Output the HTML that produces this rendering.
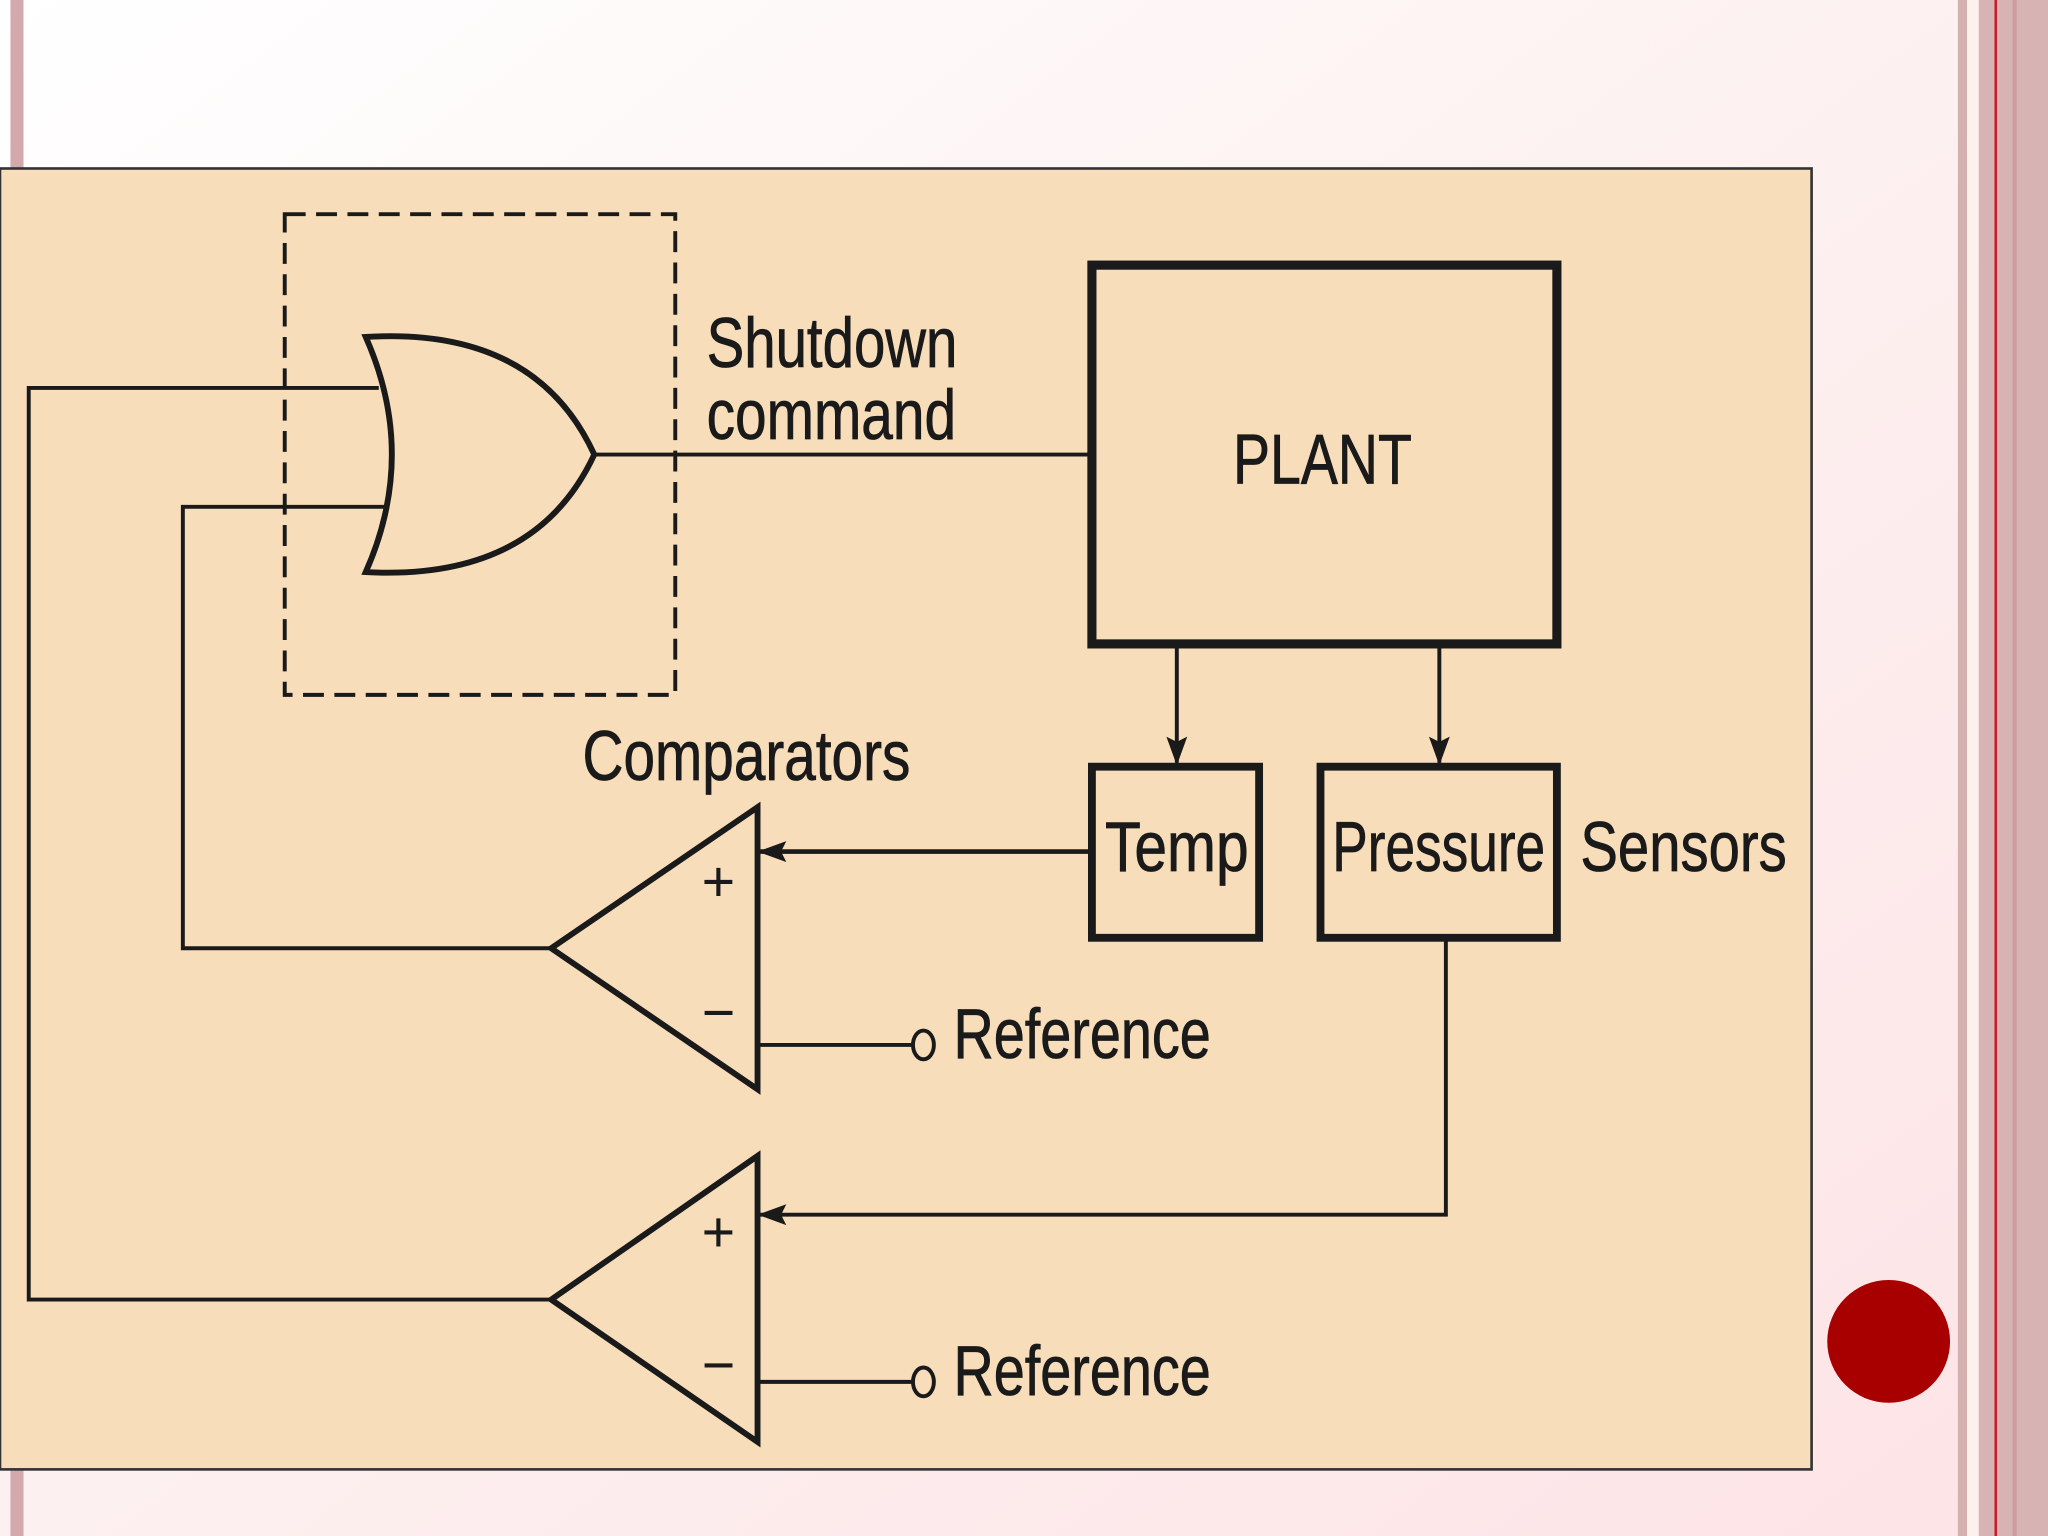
<!DOCTYPE html>
<html><head><meta charset="utf-8"><style>
html,body{margin:0;padding:0;width:2048px;height:1536px;overflow:hidden}
svg{display:block}
text{font-family:"Liberation Sans",sans-serif;fill:#1a1a1a}
</style></head><body>
<svg width="2048" height="1536" viewBox="0 0 1568 1176" xmlns="http://www.w3.org/2000/svg">
<defs>
<linearGradient id="bg" x1="0" y1="0" x2="1" y2="1">
<stop offset="0" stop-color="#ffffff"/><stop offset="0.5" stop-color="#fdf0f0"/><stop offset="1" stop-color="#fde3e6"/>
</linearGradient>
<marker id="ar" markerWidth="22" markerHeight="16" refX="20" refY="8" orient="auto" markerUnits="userSpaceOnUse" viewBox="0 0 22 16">
<path d="M0,0 L22,8 L0,16 L4,8 z" fill="#1a1a1a"/></marker>
</defs>
<rect width="1568" height="1176" fill="url(#bg)"/>
<rect x="8" y="0" width="10" height="1176" fill="#d4a9ae"/>
<rect x="1499" y="0" width="7" height="1176" fill="#d4b0b0"/>
<rect x="1506" y="0" width="9" height="1176" fill="#fdf1ee"/>
<rect x="1515" y="0" width="53" height="1176" fill="#d8b3b3"/>
<rect x="1527" y="0" width="2" height="1176" fill="#c41e2a"/>
<rect x="1541" y="0" width="3" height="1176" fill="#cc9ca0"/>
<rect x="0" y="129" width="1387" height="996" fill="#f7ddba" stroke="#333" stroke-width="2"/>
<g fill="none" stroke="#1a1a1a">
<rect x="218" y="164" width="299" height="368" stroke-width="3" stroke-dasharray="16,8"/>
<path d="M280,258 Q410,250 455,348 Q410,445 280,438 Q320,348 280,258 Z" stroke-width="4.5"/>
<path d="M455,348 H836" stroke-width="3"/>
<rect x="836" y="203" width="356" height="290" stroke-width="7"/>
<path d="M901,496 V584" stroke-width="3" marker-end="url(#ar)"/>
<path d="M1102,496 V584" stroke-width="3" marker-end="url(#ar)"/>
<rect x="836" y="587" width="128" height="131" stroke-width="6"/>
<rect x="1011" y="587" width="181" height="131" stroke-width="6"/>
<path d="M580,618 L580,834 L422,726 Z" stroke-width="4.5" stroke-linejoin="miter"/>
<path d="M836,652 H582" stroke-width="3.5" marker-end="url(#ar)"/>
<path d="M580,800 H698" stroke-width="3"/>
<ellipse cx="707" cy="800" rx="8" ry="11" stroke-width="3"/>
<path d="M422,726 H140 V388 H295" stroke-width="3"/>
<path d="M580,885 L580,1104 L422,995 Z" stroke-width="4.5"/>
<path d="M1107,720 V930 H582" stroke-width="3" marker-end="url(#ar)"/>
<path d="M580,1058 H698" stroke-width="3"/>
<ellipse cx="707" cy="1058" rx="8" ry="11" stroke-width="3"/>
<path d="M422,995 H22 V297 H290" stroke-width="3"/>
</g>
<g font-size="54" stroke="#1a1a1a" stroke-width="0.6">
<text x="541" y="281" textLength="192" lengthAdjust="spacingAndGlyphs">Shutdown</text>
<text x="541" y="336" textLength="191" lengthAdjust="spacingAndGlyphs">command</text>
<text x="944" y="370" textLength="137" lengthAdjust="spacingAndGlyphs">PLANT</text>
<text x="446" y="597" textLength="251" lengthAdjust="spacingAndGlyphs">Comparators</text>
<text x="846" y="667" textLength="110" lengthAdjust="spacingAndGlyphs">Temp</text>
<text x="1020" y="667" textLength="163" lengthAdjust="spacingAndGlyphs">Pressure</text>
<text x="1210" y="667" textLength="158" lengthAdjust="spacingAndGlyphs">Sensors</text>
<text x="730" y="810" textLength="197" lengthAdjust="spacingAndGlyphs">Reference</text>
<text x="730" y="1068" textLength="197" lengthAdjust="spacingAndGlyphs">Reference</text>
</g>
<g font-size="44" text-anchor="middle">
<text x="550" y="690">+</text>
<text x="550" y="790">−</text>
<text x="550" y="958">+</text>
<text x="550" y="1060">−</text>
</g>
<circle cx="1446" cy="1027" r="47" fill="#a80000"/>
</svg>
</body></html>
